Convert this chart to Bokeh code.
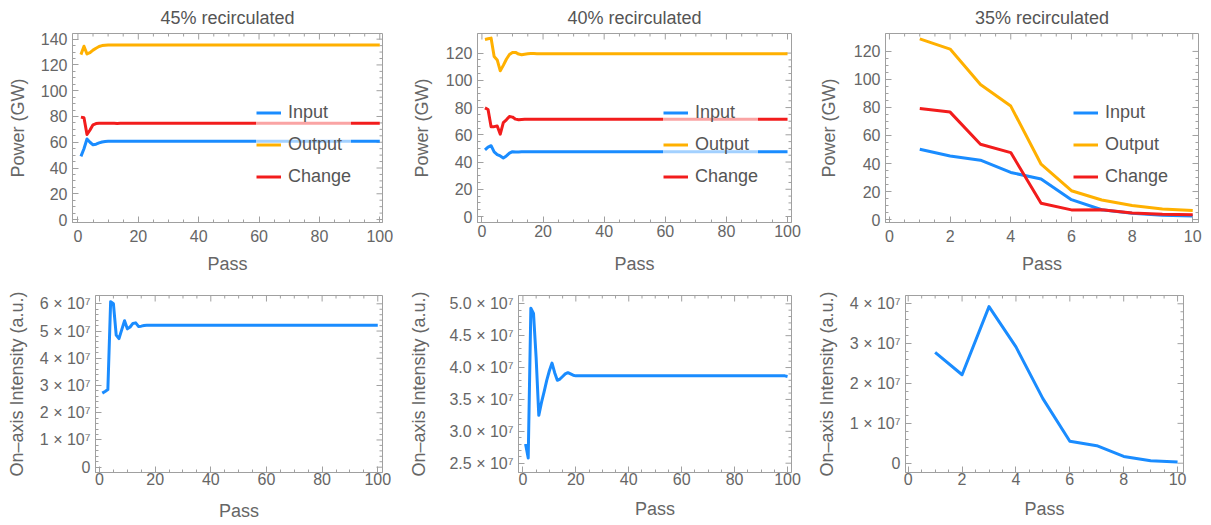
import math
from bokeh.plotting import figure
from bokeh.layouts import column, row
from bokeh.models import (LinearAxis, FixedTicker, Range1d, Title, Legend, LegendItem,
                          CustomJSTickFormatter)
from bokeh.embed import file_html
from bokeh.resources import INLINE

# ---------------- data ----------------
PASS100 = list(range(1, 101))
PASS10 = list(range(1, 11))

# 45% recirculated (GW)
IN45 = [
    49.0, 55.0, 62.5, 60.0, 58.0, 58.5, 59.5, 60.2, 60.6, 60.8,
    60.7, 60.8, 60.8, 60.8, 60.8, 60.8, 60.8, 60.8, 60.8, 60.8,
    60.8, 60.8, 60.8, 60.8, 60.8, 60.8, 60.8, 60.8, 60.8, 60.8,
    60.8, 60.8, 60.8, 60.8, 60.8, 60.8, 60.8, 60.8, 60.8, 60.8,
    60.8, 60.8, 60.8, 60.8, 60.8, 60.8, 60.8, 60.8, 60.8, 60.8,
    60.8, 60.8, 60.8, 60.8, 60.8, 60.8, 60.8, 60.8, 60.8, 60.8,
    60.8, 60.8, 60.8, 60.8, 60.8, 60.8, 60.8, 60.8, 60.8, 60.8,
    60.8, 60.8, 60.8, 60.8, 60.8, 60.8, 60.8, 60.8, 60.8, 60.8,
    60.8, 60.8, 60.8, 60.8, 60.8, 60.8, 60.8, 60.8, 60.8, 60.8,
    60.8, 60.8, 60.8, 60.8, 60.8, 60.8, 60.8, 60.8, 60.8, 60.8,
]
OUT45 = [
    128.0, 134.5, 128.5, 129.5, 131.5, 133.0, 134.3, 135.0, 135.3, 135.5,
    135.4, 135.5, 135.4, 135.5, 135.5, 135.5, 135.5, 135.5, 135.5, 135.5,
    135.5, 135.5, 135.5, 135.5, 135.5, 135.5, 135.5, 135.5, 135.5, 135.5,
    135.5, 135.5, 135.5, 135.5, 135.5, 135.5, 135.5, 135.5, 135.5, 135.5,
    135.5, 135.5, 135.5, 135.5, 135.5, 135.5, 135.5, 135.5, 135.5, 135.5,
    135.5, 135.5, 135.5, 135.5, 135.5, 135.5, 135.5, 135.5, 135.5, 135.5,
    135.5, 135.5, 135.5, 135.5, 135.5, 135.5, 135.5, 135.5, 135.5, 135.5,
    135.5, 135.5, 135.5, 135.5, 135.5, 135.5, 135.5, 135.5, 135.5, 135.5,
    135.5, 135.5, 135.5, 135.5, 135.5, 135.5, 135.5, 135.5, 135.5, 135.5,
    135.5, 135.5, 135.5, 135.5, 135.5, 135.5, 135.5, 135.5, 135.5, 135.5,
]
CHG45 = [
    79.5, 79.0, 66.0, 69.5, 73.5, 74.5, 74.8, 74.8, 74.7, 74.7,
    74.7, 74.7, 74.6, 74.7, 74.7, 74.7, 74.7, 74.7, 74.7, 74.7,
    74.7, 74.7, 74.7, 74.7, 74.7, 74.7, 74.7, 74.7, 74.7, 74.7,
    74.7, 74.7, 74.7, 74.7, 74.7, 74.7, 74.7, 74.7, 74.7, 74.7,
    74.7, 74.7, 74.7, 74.7, 74.7, 74.7, 74.7, 74.7, 74.7, 74.7,
    74.7, 74.7, 74.7, 74.7, 74.7, 74.7, 74.7, 74.7, 74.7, 74.7,
    74.7, 74.7, 74.7, 74.7, 74.7, 74.7, 74.7, 74.7, 74.7, 74.7,
    74.7, 74.7, 74.7, 74.7, 74.7, 74.7, 74.7, 74.7, 74.7, 74.7,
    74.7, 74.7, 74.7, 74.7, 74.7, 74.7, 74.7, 74.7, 74.7, 74.7,
    74.7, 74.7, 74.7, 74.7, 74.7, 74.7, 74.7, 74.7, 74.7, 74.7,
]

# 40% recirculated (GW)
IN40 = [
    49.0, 51.0, 52.0, 47.5, 45.5, 44.5, 43.0, 44.5, 46.5, 47.6,
    47.3, 47.4, 47.5, 47.5, 47.5, 47.6, 47.5, 47.5, 47.5, 47.5,
    47.5, 47.5, 47.5, 47.5, 47.5, 47.5, 47.5, 47.5, 47.5, 47.5,
    47.5, 47.5, 47.5, 47.5, 47.5, 47.5, 47.5, 47.5, 47.5, 47.5,
    47.5, 47.5, 47.5, 47.5, 47.5, 47.5, 47.5, 47.5, 47.5, 47.5,
    47.5, 47.5, 47.5, 47.5, 47.5, 47.5, 47.5, 47.5, 47.5, 47.5,
    47.5, 47.5, 47.5, 47.5, 47.5, 47.5, 47.5, 47.5, 47.5, 47.5,
    47.5, 47.5, 47.5, 47.5, 47.5, 47.5, 47.5, 47.5, 47.5, 47.5,
    47.5, 47.5, 47.5, 47.5, 47.5, 47.5, 47.5, 47.5, 47.5, 47.5,
    47.5, 47.5, 47.5, 47.5, 47.5, 47.5, 47.5, 47.5, 47.5, 47.5,
]
OUT40 = [
    130.0, 130.5, 131.0, 117.5, 115.0, 107.0, 111.0, 115.5, 119.0, 120.5,
    120.5, 119.3, 118.8, 119.2, 119.5, 119.7, 119.7, 119.6, 119.5, 119.5,
    119.5, 119.5, 119.5, 119.5, 119.5, 119.5, 119.5, 119.5, 119.5, 119.5,
    119.5, 119.5, 119.5, 119.5, 119.5, 119.5, 119.5, 119.5, 119.5, 119.5,
    119.5, 119.5, 119.5, 119.5, 119.5, 119.5, 119.5, 119.5, 119.5, 119.5,
    119.5, 119.5, 119.5, 119.5, 119.5, 119.5, 119.5, 119.5, 119.5, 119.5,
    119.5, 119.5, 119.5, 119.5, 119.5, 119.5, 119.5, 119.5, 119.5, 119.5,
    119.5, 119.5, 119.5, 119.5, 119.5, 119.5, 119.5, 119.5, 119.5, 119.5,
    119.5, 119.5, 119.5, 119.5, 119.5, 119.5, 119.5, 119.5, 119.5, 119.5,
    119.5, 119.5, 119.5, 119.5, 119.5, 119.5, 119.5, 119.5, 119.5, 119.5,
]
CHG40 = [
    79.8, 78.6, 66.0, 66.0, 66.5, 60.5, 69.0, 71.0, 73.5, 73.0,
    71.5, 71.0, 71.3, 71.4, 71.5, 71.5, 71.5, 71.5, 71.4, 71.4,
    71.4, 71.4, 71.4, 71.4, 71.4, 71.4, 71.4, 71.4, 71.4, 71.4,
    71.4, 71.4, 71.4, 71.4, 71.4, 71.4, 71.4, 71.4, 71.4, 71.4,
    71.4, 71.4, 71.4, 71.4, 71.4, 71.4, 71.4, 71.4, 71.4, 71.4,
    71.4, 71.4, 71.4, 71.4, 71.4, 71.4, 71.4, 71.4, 71.4, 71.4,
    71.4, 71.4, 71.4, 71.4, 71.4, 71.4, 71.4, 71.4, 71.4, 71.4,
    71.4, 71.4, 71.4, 71.4, 71.4, 71.4, 71.4, 71.4, 71.4, 71.4,
    71.4, 71.4, 71.4, 71.4, 71.4, 71.4, 71.4, 71.4, 71.4, 71.4,
    71.4, 71.4, 71.4, 71.4, 71.4, 71.4, 71.4, 71.4, 71.4, 71.4,
]

# 35% recirculated (GW)
IN35 = [50.2, 45.4, 42.4, 33.6, 28.9, 14.2, 7.0, 4.5, 3.0, 2.5]
OUT35 = [129.0, 121.7, 96.4, 81.0, 39.5, 20.6, 14.0, 10.0, 7.6, 6.4]
CHG35 = [79.3, 76.7, 53.7, 47.8, 11.6, 6.9, 7.0, 4.7, 3.8, 3.5]

# On-axis intensity (a.u.)
INT45 = [
    2.72e7, 2.78e7, 2.85e7, 6.08e7, 6.00e7, 4.85e7, 4.72e7, 5.05e7, 5.38e7, 5.08e7,
    5.15e7, 5.28e7, 5.30e7, 5.17e7, 5.18e7, 5.20e7, 5.21e7, 5.21e7, 5.21e7, 5.21e7,
    5.21e7, 5.21e7, 5.21e7, 5.21e7, 5.21e7, 5.21e7, 5.21e7, 5.21e7, 5.21e7, 5.21e7,
    5.21e7, 5.21e7, 5.21e7, 5.21e7, 5.21e7, 5.21e7, 5.21e7, 5.21e7, 5.21e7, 5.21e7,
    5.21e7, 5.21e7, 5.21e7, 5.21e7, 5.21e7, 5.21e7, 5.21e7, 5.21e7, 5.21e7, 5.21e7,
    5.21e7, 5.21e7, 5.21e7, 5.21e7, 5.21e7, 5.21e7, 5.21e7, 5.21e7, 5.21e7, 5.21e7,
    5.21e7, 5.21e7, 5.21e7, 5.21e7, 5.21e7, 5.21e7, 5.21e7, 5.21e7, 5.21e7, 5.21e7,
    5.21e7, 5.21e7, 5.21e7, 5.21e7, 5.21e7, 5.21e7, 5.21e7, 5.21e7, 5.21e7, 5.21e7,
    5.21e7, 5.21e7, 5.21e7, 5.21e7, 5.21e7, 5.21e7, 5.21e7, 5.21e7, 5.21e7, 5.21e7,
    5.21e7, 5.21e7, 5.21e7, 5.21e7, 5.21e7, 5.21e7, 5.21e7, 5.21e7, 5.21e7, 5.21e7,
]
INT40 = [
    2.80e7, 2.58e7, 4.93e7, 4.85e7, 4.15e7, 3.25e7, 3.45e7, 3.62e7, 3.80e7, 3.95e7,
    4.07e7, 3.92e7, 3.80e7, 3.82e7, 3.86e7, 3.90e7, 3.92e7, 3.90e7, 3.88e7, 3.87e7,
    3.87e7, 3.87e7, 3.87e7, 3.87e7, 3.87e7, 3.87e7, 3.87e7, 3.87e7, 3.87e7, 3.87e7,
    3.87e7, 3.87e7, 3.87e7, 3.87e7, 3.87e7, 3.87e7, 3.87e7, 3.87e7, 3.87e7, 3.87e7,
    3.87e7, 3.87e7, 3.87e7, 3.87e7, 3.87e7, 3.87e7, 3.87e7, 3.87e7, 3.87e7, 3.87e7,
    3.87e7, 3.87e7, 3.87e7, 3.87e7, 3.87e7, 3.87e7, 3.87e7, 3.87e7, 3.87e7, 3.87e7,
    3.87e7, 3.87e7, 3.87e7, 3.87e7, 3.87e7, 3.87e7, 3.87e7, 3.87e7, 3.87e7, 3.87e7,
    3.87e7, 3.87e7, 3.87e7, 3.87e7, 3.87e7, 3.87e7, 3.87e7, 3.87e7, 3.87e7, 3.87e7,
    3.87e7, 3.87e7, 3.87e7, 3.87e7, 3.87e7, 3.87e7, 3.87e7, 3.87e7, 3.87e7, 3.87e7,
    3.87e7, 3.87e7, 3.87e7, 3.87e7, 3.87e7, 3.87e7, 3.87e7, 3.87e7, 3.87e7, 3.86e7,
]
INT35 = [2.78e7, 2.22e7, 3.93e7, 2.92e7, 1.62e7, 0.55e7, 0.44e7, 0.17e7, 0.06e7, 0.03e7]

TITLES = ["45% recirculated", "40% recirculated", "35% recirculated"]
SERIES_NAMES = ["Input", "Output", "Change"]

X100_TICKS = [0, 20, 40, 60, 80, 100]
X10_TICKS = [0, 2, 4, 6, 8, 10]
Y140_TICKS = [0, 20, 40, 60, 80, 100, 120, 140]
Y120_TICKS = [0, 20, 40, 60, 80, 100, 120]
I45_TICKS = [0, 1e7, 2e7, 3e7, 4e7, 5e7, 6e7]
I40_TICKS = [2.5e7, 3.0e7, 3.5e7, 4.0e7, 4.5e7, 5.0e7]
I35_TICKS = [0, 1e7, 2e7, 3e7, 4e7]

# ---------------- style ----------------
FONT = "Liberation Sans"
BLUE = "#1a8cff"
ORANGE = "#ffb000"
RED = "#f21c1c"
FRAME = "#a0a0a0"
TEXT = "#666666"
TITLE_C = "#555555"
TICK_FS = "16px"
LABEL_FS = "18px"


def minor(lo, hi, step, majors):
    out = []
    v = lo
    while v <= hi + 1e-9:
        if all(abs(v - m) > step * 1e-3 for m in majors):
            out.append(v)
        v += step
    return out


def sci_formatter(digits):
    return CustomJSTickFormatter(code="""
        if (Math.abs(tick) < 1) { return "0"; }
        return (tick / 1e7).toFixed(%d) + " \u00d7 10\u2077";
    """ % digits)


def make_axis(ticks, mticks, label, fmt=None, s1=5, s2=10):
    ax = LinearAxis(ticker=FixedTicker(ticks=ticks, minor_ticks=mticks))
    ax.axis_line_color = FRAME
    ax.major_tick_line_color = FRAME
    ax.minor_tick_line_color = FRAME
    ax.major_tick_in = 6
    ax.major_tick_out = 0
    ax.minor_tick_in = 3
    ax.minor_tick_out = 0
    ax.axis_label = label
    ax.axis_label_text_font = FONT
    ax.axis_label_text_font_size = LABEL_FS
    ax.axis_label_text_font_style = "normal"
    ax.axis_label_text_color = TEXT
    ax.major_label_text_font = FONT
    ax.major_label_text_font_size = TICK_FS
    ax.major_label_text_color = TEXT
    ax.major_label_standoff = s1
    ax.axis_label_standoff = s2
    if fmt is not None:
        ax.formatter = fmt
    return ax


def make_fig(w, h, bl, br, bt, bb, xr, yr, xt, xstep, yt, ystep, ylabel,
             title=None, yfmt=None, ys2=10, xs1=11, xs2=5):
    p = figure(width=w, height=h, x_range=Range1d(*xr), y_range=Range1d(*yr),
               output_backend="svg", toolbar_location=None, title=None,
               x_axis_type=None, y_axis_type=None,
               min_border_left=bl, min_border_right=br,
               min_border_top=bt, min_border_bottom=bb)
    p.outline_line_color = FRAME
    p.background_fill_color = "white"
    p.border_fill_color = "white"
    xm = minor(xt[0], xt[-1], xstep, xt)
    ym = minor(yt[0], yt[-1], ystep, yt)
    p.add_layout(make_axis(xt, xm, "Pass", None, xs1, xs2), "below")
    p.add_layout(make_axis(yt, ym, ylabel, yfmt, 5, ys2), "left")
    # mirrored frame ticks on the top and right edges (half of each dash is clipped)
    top, right = yr[1], xr[1]
    p.scatter(xt, [top] * len(xt), marker="dash", angle=math.pi / 2, size=12,
              line_color=FRAME, line_width=1)
    p.scatter(xm, [top] * len(xm), marker="dash", angle=math.pi / 2, size=6,
              line_color=FRAME, line_width=1)
    p.scatter([right] * len(yt), yt, marker="dash", size=12, line_color=FRAME, line_width=1)
    p.scatter([right] * len(ym), ym, marker="dash", size=6, line_color=FRAME, line_width=1)
    if title:
        p.add_layout(Title(text=title, align="center", text_font=FONT,
                           text_font_size=LABEL_FS, text_font_style="normal",
                           text_color=TITLE_C, standoff=max(0, bt - 21)), "above")
    return p


def add_power(p, x, ins, outs, chgs, loc):
    rs = []
    for ys, c in zip([ins, outs, chgs], [BLUE, ORANGE, RED]):
        rs.append(p.line(x, ys, line_color=c, line_width=3, line_join="round"))
    leg = Legend(items=[LegendItem(label=n, renderers=[r]) for n, r in zip(SERIES_NAMES, rs)],
                 location=loc, background_fill_color="white", background_fill_alpha=0.6,
                 border_line_color=None, padding=13, spacing=11, margin=0,
                 glyph_width=25, glyph_height=21, label_height=21,
                 label_standoff=7, label_text_font=FONT, label_text_font_size=LABEL_FS,
                 label_text_color=TITLE_C)
    p.add_layout(leg)


PW = "Power (GW)"
IW = "On\u2013axis Intensity (a.u.)"

TOP_H, TOP_BT, TOP_BB = 277, 32, 55
BOT_H, BOT_BT, BOT_BB = 247, 18, 52

p1 = make_fig(400, TOP_H, 72, 18, TOP_BT, TOP_BB, (-1.8, 100.9), (-2.3, 144.4),
              X100_TICKS, 5, Y140_TICKS, 5, PW, TITLES[0], ys2=10, xs1=7, xs2=9)
add_power(p1, PASS100, IN45, OUT45, CHG45, (184, 35))

p2 = make_fig(410, TOP_H, 77, 19, TOP_BT, TOP_BB, (-1.45, 101.3), (-4.4, 134.4),
              X100_TICKS, 5, Y120_TICKS, 5, PW, TITLES[1], ys2=11, xs1=2, xs2=14)
add_power(p2, PASS100, IN40, OUT40, CHG40, (186, 35))

p3 = make_fig(400, TOP_H, 75, 12, TOP_BT, TOP_BB, (-0.13, 10.19), (-2.1, 132.8),
              X10_TICKS, 0.5, Y120_TICKS, 5, PW, TITLES[2], ys2=12, xs1=7, xs2=9)
add_power(p3, PASS10, IN35, OUT35, CHG35, (188, 35))

p4 = make_fig(400, BOT_H, 95, 18, BOT_BT, BOT_BB, (-1.44, 101.7), (-0.195e7, 6.305e7),
              X100_TICKS, 5, I45_TICKS, 0.2e7, IW, yfmt=sci_formatter(0), ys2=10,
              xs1=0, xs2=13)
p4.line(PASS100, INT45, line_color=BLUE, line_width=3, line_join="round")

p5 = make_fig(410, BOT_H, 118, 19, BOT_BT, BOT_BB, (-1.67, 101.5), (2.354e7, 5.13e7),
              X100_TICKS, 5, I40_TICKS, 0.1e7, IW, yfmt=sci_formatter(1), ys2=17,
              xs1=0, xs2=11)
p5.line(PASS100, INT40, line_color=BLUE, line_width=3, line_join="round")

p6 = make_fig(400, BOT_H, 95, 27, BOT_BT, BOT_BB, (-0.1, 10.22), (-0.233e7, 4.208e7),
              X10_TICKS, 0.5, I35_TICKS, 0.2e7, IW, yfmt=sci_formatter(0), ys2=10,
              xs1=0, xs2=11)
p6.line(PASS10, INT35, line_color=BLUE, line_width=3, line_join="round")

layout = column(row(p1, p2, p3), row(p4, p5, p6))
open("out.html", "w").write(file_html(layout, INLINE))
